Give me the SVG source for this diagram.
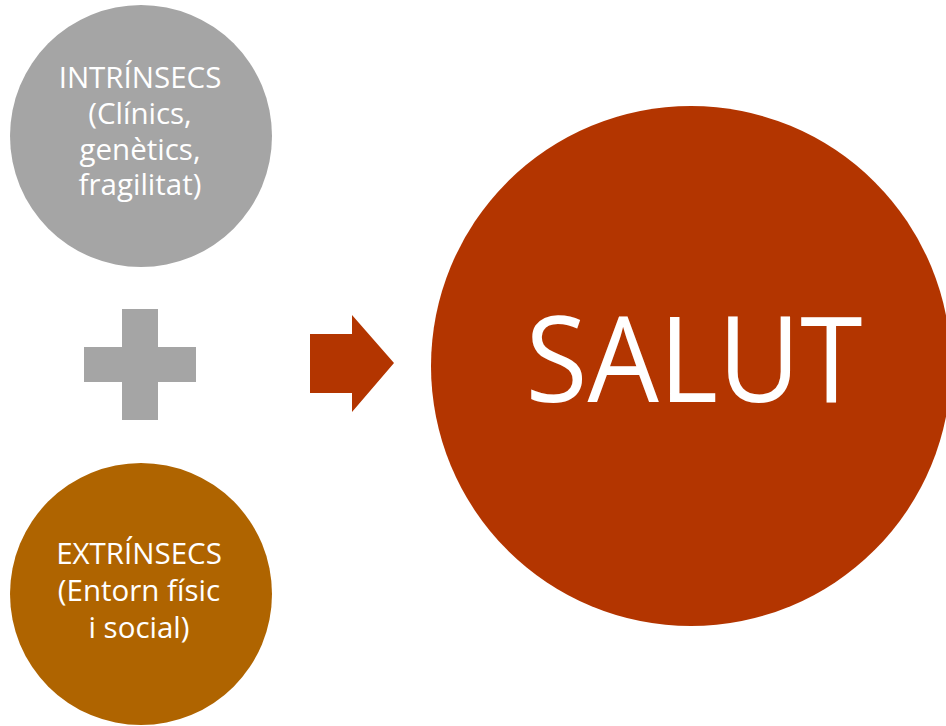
<svg xmlns="http://www.w3.org/2000/svg" width="946" height="726" viewBox="0 0 946 726">
<style>
.lbl{font-family:"Open Sans","Noto Sans","Liberation Sans",sans-serif;fill:#FFFFFF;text-anchor:middle;font-size:29.5px}
.big{font-family:"Open Sans","Noto Sans","Liberation Sans",sans-serif;fill:#FFFFFF;text-anchor:middle;font-size:119px}
</style>
<rect width="946" height="726" fill="#FFFFFF"/>
<g id="intrinsecs">
<circle cx="141" cy="136" r="131" fill="#A5A5A5"/>
<text class="lbl"><tspan x="140" y="88">INTRÍNSECS</tspan><tspan x="140" y="124">(Clínics,</tspan><tspan x="140" y="160">genètics,</tspan><tspan x="140" y="195">fragilitat)</tspan></text>
</g>
<g id="plus">
<path d="M122,309 H158 V347 H196 V382 H158 V420 H122 V382 H84 V347 H122 Z" fill="#A5A5A5"/>
</g>
<g id="extrinsecs">
<circle cx="141" cy="594" r="131" fill="#AF6400"/>
<text class="lbl"><tspan x="139" y="564">EXTRÍNSECS</tspan><tspan x="139" y="601">(Entorn físic</tspan><tspan x="139" y="638">i social)</tspan></text>
</g>
<g id="connectors">
<path d="M310,334 H352 V315 L394,363 L352,412 V393 H310 Z" fill="#B33500"/>
</g>
<g id="salut">
<circle cx="691" cy="366" r="260" fill="#B33500"/>
<text class="big" x="694" y="402" textLength="337" lengthAdjust="spacingAndGlyphs">SALUT</text>
</g>
</svg>
